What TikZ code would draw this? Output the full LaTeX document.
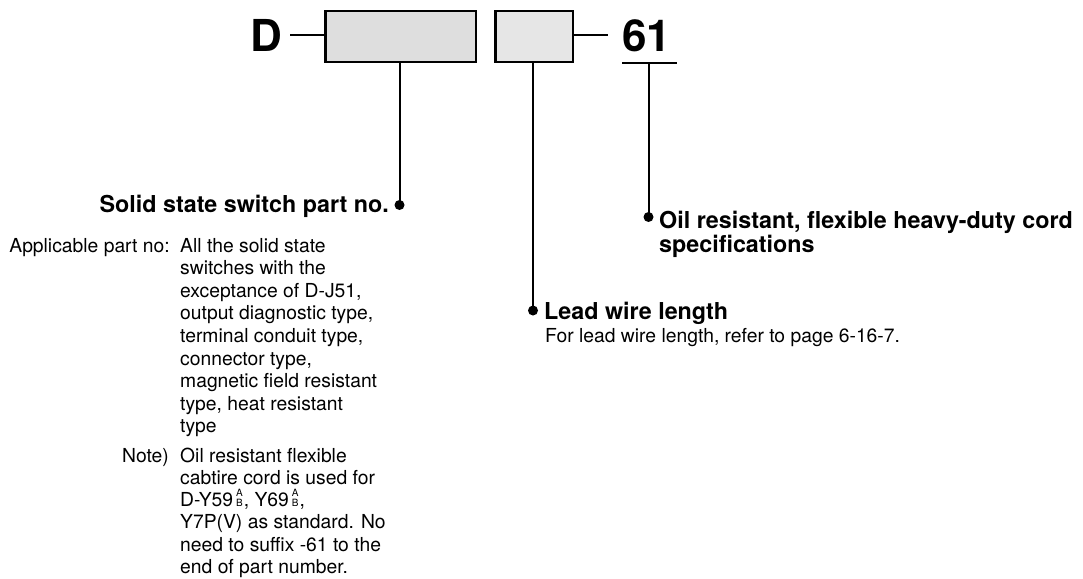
\documentclass[tikz,border=0pt]{standalone}
\usepackage{fontspec}
\setmainfont{TeX Gyre Heros}
\newcommand\abmark{\hspace{3pt}{\fontsize{10}{10}\selectfont\shortstack{A\\B}}\hspace{1pt}}
\begin{document}
\begin{tikzpicture}[x=1pt,y=-1pt,
  conn/.style={line width=2pt, black},
  partbox/.style={draw, line width=2.5pt, inner sep=0pt, minimum height=50.5pt},
  dot/.style={circle, fill=black, inner sep=0pt, minimum size=10pt},
  body/.style={inner sep=0pt, font=\fontsize{19.3}{22.6}\selectfont},
  head/.style={inner sep=0pt, font=\bfseries\fontsize{23.3}{24.5}\selectfont},
  big/.style={inner sep=0pt, font=\bfseries\fontsize{44}{44}\selectfont}]
\useasboundingbox (0,0) rectangle (1083,578);
\definecolor{boxgrayA}{RGB}{222,222,222}
\definecolor{boxgrayB}{RGB}{230,230,230}

% top row
\node[big, anchor=base] (D) at (266,52) {D};
\node[partbox, fill=boxgrayA, minimum width=150.5pt] (b1) at (400.5,36.5) {};
\node[partbox, fill=boxgrayB, minimum width=77.5pt] (b2) at (534,36.5) {};
\node[big, anchor=base] (n61) at (646.5,52) {61};
\coordinate (u1) at (622,63);
\coordinate (u2) at (677,63);
\coordinate (dl) at (290,35);
\coordinate (sr) at (608,35);

\draw[conn] (dl) -- (dl -| b1.west);
\draw[conn] (b2.east |- sr) -- (sr);
\draw[conn] (u1) -- (u2);

% dots
\node[dot] (p1) at (399.5,205) {};
\node[dot] (p2) at (533,310.5) {};
\node[dot] (p3) at (648.5,217) {};

\draw[conn] (p1 |- b1.south) -- (p1.center);
\draw[conn] (p2 |- b2.south) -- (p2.center);
\draw[conn] (p3 |- u1) -- (p3.center);

% labels
\node[head, anchor=base east] (h1) at (389,212) {Solid state switch part no.};
\node[head, anchor=base west] (h3) at (659,228) {\parbox[t]{420pt}{\raggedright Oil resistant, flexible heavy-duty cord\\specifications}};
\node[head, anchor=base west] (h2) at (544,319) {Lead wire length};
\node[body, anchor=base west] (t2) at (545,342) {For lead wire length, refer to page 6-16-7.};

\node[body, anchor=base east] (lab1) at (170,252) {Applicable part no:};
\node[body, anchor=base west] (t1) at (180,252) {\parbox[t]{260pt}{\raggedright All the solid state\\switches with the\\exceptance of D-J51,\\output diagnostic type,\\terminal conduit type,\\connector type,\\magnetic field resistant\\type, heat resistant\\type}};
\node[body, anchor=base east] (lab2) at (169,462) {Note)};
\node[body, anchor=base west, font=\fontsize{19.3}{22.3}\selectfont] (t3) at (180,462) {\parbox[t]{260pt}{\raggedright Oil resistant flexible\\cabtire cord is used for\\D-Y59\abmark, Y69\abmark,\\Y7P(V) as standard. No\\need to suffix -61 to the\\end of part number.}};
\end{tikzpicture}
\end{document}
